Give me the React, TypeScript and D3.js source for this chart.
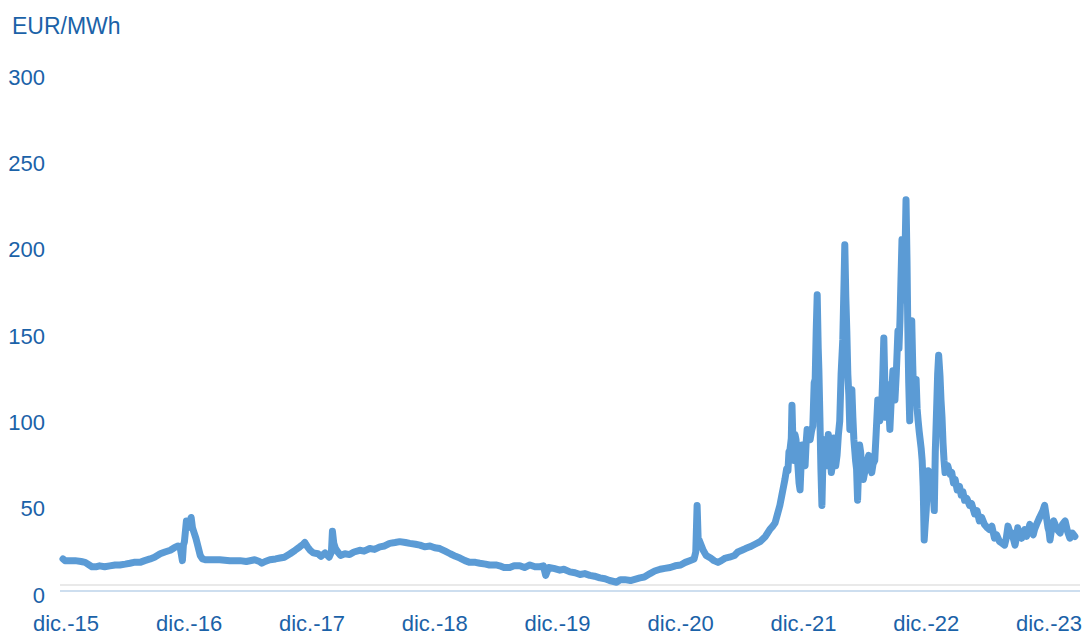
import React from "react";
import * as d3 from "d3";

// precio diario del gas, EUR/MWh
const dates: string[] = [
  "2015-11-22","2015-11-28","2015-12-10","2015-12-28","2016-01-15","2016-01-27","2016-02-08","2016-02-16","2016-03-01","2016-03-10",
  "2016-03-25","2016-04-09","2016-04-25","2016-05-09","2016-05-25","2016-06-08","2016-06-20","2016-07-08","2016-07-22","2016-08-07",
  "2016-08-20","2016-09-06","2016-09-20","2016-10-06","2016-10-18","2016-10-29","2016-11-05","2016-11-11","2016-11-14","2016-11-17",
  "2016-11-23","2016-11-27","2016-12-01","2016-12-07","2016-12-11","2016-12-16","2016-12-21","2016-12-25","2017-01-03","2017-01-10",
  "2017-01-18","2017-02-10","2017-03-02","2017-04-01","2017-05-01","2017-05-20","2017-06-14","2017-06-28","2017-07-05","2017-07-15",
  "2017-07-29","2017-08-15","2017-08-28","2017-09-10","2017-09-27","2017-10-12","2017-10-26","2017-11-05","2017-11-10","2017-11-18",
  "2017-11-26","2017-12-05","2017-12-19","2017-12-28","2018-01-09","2018-01-21","2018-01-28","2018-01-31","2018-02-04","2018-02-09",
  "2018-02-16","2018-02-24","2018-03-09","2018-03-23","2018-04-05","2018-04-22","2018-05-05","2018-05-22","2018-06-05","2018-06-21",
  "2018-07-05","2018-07-20","2018-08-05","2018-08-19","2018-09-05","2018-09-18","2018-10-05","2018-10-18","2018-11-01","2018-11-17",
  "2018-12-01","2018-12-16","2019-01-01","2019-01-16","2019-02-01","2019-02-14","2019-03-01","2019-03-15","2019-04-01","2019-04-14",
  "2019-05-01","2019-05-13","2019-06-01","2019-06-12","2019-06-25","2019-07-12","2019-07-25","2019-08-11","2019-08-25","2019-09-10",
  "2019-09-25","2019-10-10","2019-10-20","2019-10-27","2019-11-05","2019-11-20","2019-12-08","2019-12-20","2020-01-07","2020-01-22",
  "2020-02-06","2020-02-20","2020-03-06","2020-03-20","2020-04-05","2020-04-20","2020-05-04","2020-05-25","2020-06-05","2020-06-18",
  "2020-07-05","2020-08-02","2020-08-15","2020-09-01","2020-09-15","2020-10-01","2020-10-15","2020-10-31","2020-11-15","2020-12-01",
  "2020-12-15","2020-12-28","2021-01-10","2021-01-15","2021-01-19","2021-01-22","2021-01-25","2021-02-06","2021-02-15","2021-02-28",
  "2021-03-10","2021-03-22","2021-04-01","2021-04-13","2021-04-25","2021-05-10","2021-05-20","2021-06-01","2021-06-12","2021-06-25",
  "2021-07-10","2021-07-25","2021-08-10","2021-08-23","2021-09-01","2021-09-08","2021-09-15","2021-09-22","2021-09-28","2021-10-03",
  "2021-10-07","2021-10-12","2021-10-16","2021-10-19","2021-10-22","2021-10-26","2021-10-28","2021-10-31","2021-11-03","2021-11-06",
  "2021-11-09","2021-11-12","2021-11-15","2021-11-18","2021-11-21","2021-11-24","2021-11-27","2021-12-01","2021-12-06","2021-12-09",
  "2021-12-12","2021-12-16","2021-12-21","2021-12-25","2021-12-29","2022-01-02","2022-01-05","2022-01-08","2022-01-11","2022-01-14",
  "2022-01-16","2022-01-19","2022-01-22","2022-01-25","2022-01-28","2022-02-01","2022-02-04","2022-02-07","2022-02-10","2022-02-13",
  "2022-02-16","2022-02-19","2022-02-22","2022-02-25","2022-03-01","2022-03-04","2022-03-07","2022-03-11","2022-03-15","2022-03-19",
  "2022-03-23","2022-03-28","2022-04-01","2022-04-03","2022-04-06","2022-04-09","2022-04-12","2022-04-15","2022-04-18","2022-04-21",
  "2022-04-24","2022-04-27","2022-04-30","2022-05-03","2022-05-05","2022-05-08","2022-05-11","2022-05-14","2022-05-17","2022-05-20",
  "2022-05-22","2022-05-25","2022-05-28","2022-06-01","2022-06-04","2022-06-08","2022-06-13","2022-06-17","2022-06-22","2022-06-26",
  "2022-07-01","2022-07-05","2022-07-10","2022-07-13","2022-07-16","2022-07-19","2022-07-22","2022-07-25","2022-07-28","2022-07-31",
  "2022-08-03","2022-08-06","2022-08-09","2022-08-12","2022-08-15","2022-08-19","2022-08-24","2022-08-27","2022-08-30","2022-09-03",
  "2022-09-08","2022-09-11","2022-09-14","2022-09-17","2022-09-20","2022-09-23","2022-09-26","2022-09-29","2022-10-02","2022-10-05",
  "2022-10-07","2022-10-10","2022-10-13","2022-10-16","2022-10-19","2022-10-22","2022-10-25","2022-10-28","2022-11-01","2022-11-04",
  "2022-11-07","2022-11-10","2022-11-13","2022-11-16","2022-11-19","2022-11-22","2022-11-25","2022-11-28","2022-12-01","2022-12-04",
  "2022-12-07","2022-12-10","2022-12-13","2022-12-16","2022-12-19","2022-12-22","2022-12-25","2022-12-28","2023-01-01","2023-01-04",
  "2023-01-07","2023-01-09","2023-01-11","2023-01-14","2023-01-17","2023-01-20","2023-01-23","2023-01-26","2023-01-29","2023-02-03",
  "2023-02-10","2023-02-15","2023-02-20","2023-02-25","2023-03-03","2023-03-10","2023-03-15","2023-03-20","2023-03-25","2023-04-01",
  "2023-04-09","2023-04-15","2023-04-24","2023-05-01","2023-05-08","2023-05-15","2023-05-23","2023-06-01","2023-06-07","2023-06-14",
  "2023-06-22","2023-06-28","2023-07-07","2023-07-15","2023-07-22","2023-07-27","2023-08-01","2023-08-06","2023-08-13","2023-08-18",
  "2023-08-22","2023-08-26","2023-08-30","2023-09-04","2023-09-11","2023-09-16","2023-09-20","2023-09-25","2023-10-01","2023-10-05",
  "2023-10-10","2023-10-15","2023-10-19","2023-10-25","2023-11-03","2023-11-08","2023-11-13","2023-11-18","2023-11-22","2023-11-28",
  "2023-12-01","2023-12-04","2023-12-10","2023-12-15","2023-12-19","2023-12-25","2024-01-03","2024-01-10","2024-01-18","2024-01-25",
  "2024-02-01","2024-02-08","2024-02-16",
];

const prices: number[] = [
  18,17,17,17,16.5,16,14.5,13.5,13.5,14,
  13.5,14,14.5,14.5,15,15.5,16,16,17,18,
  19,21,22,23,24.5,25.5,24,17,26,28,
  40,36,38,42,36,33,30,27,20,18,
  17.5,17.5,17.5,17,17,16.5,17.5,16.5,15.5,16.5,
  17.5,18,18.5,19,21,23,25,26.5,27.5,25,
  23,21.5,21,19.5,21.5,19,22,34,27,24,
  22,20,21,20.5,22,23,22.5,24,23.5,25,
  25.5,27,27.5,28,27.5,27,26.5,26,25,25.5,
  24.5,24,22.5,21,19.5,18.5,17,16,16,15.5,
  15,14.5,14.5,14,13,13,14,14,13,14.5,
  13.5,13.5,14,8.5,13,12.5,11.5,12,10.5,10,
  9,9.5,8.5,8,7,6.5,5.5,4.5,6,6,
  5.5,7,7.5,9.5,11,12,12.5,13,14,14.5,
  16,17,18,22,49,30,29,23,20,18.5,
  17,16,17,18.5,19,20,22,23,24,25,
  26.5,28,31,35,37,39,44,49,55,60,
  64,70,69,80,81,88,107,85,75,90,
  87,78,71,62,58,72,84,79,72,85,
  93,90,87,92,95,120,122,150,171,140,
  127,100,70,49,75,87,80,72,80,90,
  85,78,68,72,88,80,72,78,90,98,
  125,145,180,200,170,150,125,113,93,105,
  116,100,87,80,75,70,52,70,84,80,
  75,70,64,68,70,74,78,72,68,73,
  75,90,110,105,98,105,108,125,146,120,
  100,110,119,105,93,110,127,118,110,125,
  150,140,156,180,203,185,168,195,226,190,
  156,120,98,130,156,130,110,118,122,105,
  98,92,87,82,75,60,29,38,46,58,
  69,62,55,62,64,55,46,80,105,125,
  136,130,124,110,100,85,75,68,70,72,
  67,68,62,64,58,60,55,57,52,53,
  49,50,44,46,40,42,38,36,35,37,
  30,32,28,27,26,30,37,34,33,29,
  26,30,36,32,30,33,35,31,35,38,
  34,32,35,38,42,44,46,49,44,36,
  34,29,37,40,38,35,33,38,40,34,
  30,33,31,
];

const yTicks: number[] = [0, 50, 100, 150, 200, 250, 300];
const xTickDates: string[] = ["2015-12-01","2016-12-01","2017-12-01","2018-12-01","2019-12-01","2020-12-01","2021-12-01","2022-12-01","2023-12-01"];
const xTickLabels: string[] = ["dic.-15","dic.-16","dic.-17","dic.-18","dic.-19","dic.-20","dic.-21","dic.-22","dic.-23"];

const W = 1086;
const H = 638;
const textColor = "#1B62A8";
const lineColor = "#5B9BD5";
const font = "'Liberation Sans', Arial, sans-serif";

export default function App() {
  const parse = d3.timeParse("%Y-%m-%d");
  const series = dates.map((d, i) => ({ date: parse(d)!, value: prices[i] }));

  const x = d3.scaleTime()
    .domain([parse("2015-12-01")!, parse("2023-12-01")!])
    .range([66, 1049]);
  const y = d3.scaleLinear().domain([0, 300]).range([590, 72]);

  const line = d3.line<{ date: Date; value: number }>()
    .x(d => x(d.date))
    .y(d => y(d.value));

  return (
    <svg width={W} height={H} style={{ position: "absolute", left: 0, top: 0, background: "#fff" }}>
      <text x={12} y={34} fontFamily={font} fontSize={23} fill={textColor}>EUR/MWh</text>

      {yTicks.map(t => (
        <text key={t} x={45} y={y(t) + 5} dy="0.35em" textAnchor="end" fontFamily={font} fontSize={22} fill={textColor}>{t}</text>
      ))}

      <line x1={60} x2={1080} y1={y(0) - 5} y2={y(0) - 5} stroke="#E2E2E2" strokeWidth={1.5} />
      <line x1={60} x2={1080} y1={y(0) + 1} y2={y(0) + 1} stroke="#BDD3EA" strokeWidth={1.5} />

      <path d={line(series) ?? ""} fill="none" stroke={lineColor} strokeWidth={7}
        strokeLinejoin="round" strokeLinecap="round" />

      {xTickDates.map((d, i) => (
        <text key={d} x={x(parse(d)!)} y={631} textAnchor="middle" fontFamily={font} fontSize={22} fill={textColor}>
          {xTickLabels[i]}
        </text>
      ))}
    </svg>
  );
}
